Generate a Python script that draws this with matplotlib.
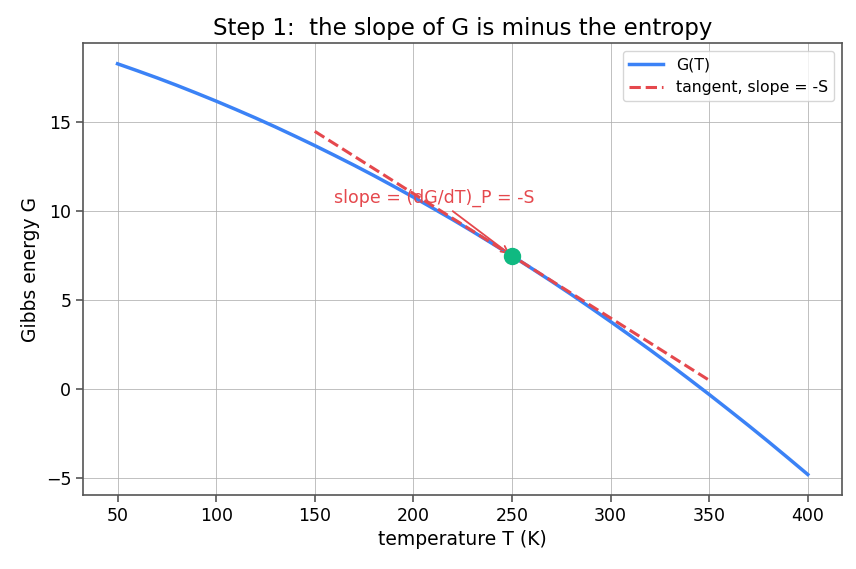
#!/usr/bin/env python3

import matplotlib
matplotlib.use("Agg")
import matplotlib.pyplot as plt

# values
temperature = [50, 60, 70, 80, 90, 100, 110, 120, 130, 140, 150, 160, 170, 180,
               190, 200, 210, 220, 230, 240, 250, 260, 270, 280, 290, 300, 310,
               320, 330, 340, 350, 360, 370, 380, 390, 400]
gibbs = [18.30, 17.91, 17.51, 17.09, 16.65, 16.20, 15.73, 15.25, 14.75, 14.23,
         13.70, 13.15, 12.59, 12.01, 11.41, 10.80, 10.17, 9.53, 8.87, 8.19,
         7.50, 6.79, 6.07, 5.33, 4.57, 3.80, 3.01, 2.21, 1.39, 0.55,
         -0.30, -1.17, -2.05, -2.95, -3.87, -4.80]

tangent_t = [150, 350]
tangent_g = [14.5, 0.5]

point_t = 250
point_g = 7.5

fig, ax = plt.subplots(figsize=(8.56, 5.69), dpi=100)

ax.plot(temperature, gibbs, color="#3b82f6", lw=2.5, label="G(T)")
ax.plot(tangent_t, tangent_g, color="#e5484d", lw=2.2, ls="--", label="tangent, slope = -S")
ax.plot([point_t], [point_g], "o", color="#10b981", markersize=11.5, zorder=5)

ax.annotate(
    "slope = (dG/dT)_P = -S",
    xy=(point_t, point_g),
    xytext=(160, 10.5),
    color="#e5484d",
    fontsize=12.5,
    arrowprops=dict(arrowstyle="->", color="#e5484d", lw=1.3),
)

ax.set_title("Step 1:  the slope of G is minus the entropy", fontsize=16.5)
ax.set_xlabel("temperature T (K)", fontsize=13.5)
ax.set_ylabel("Gibbs energy G", fontsize=13.5)
ax.tick_params(labelsize=12.5, length=5, width=1.2, color="#555555")
ax.grid(True, color="#b0b0b0", lw=0.7, alpha=0.8)
for s in ax.spines.values():
    s.set_color("#555555")
    s.set_linewidth(1.2)
ax.legend(loc="upper right", fontsize=11.3, handlelength=2.2)

fig.subplots_adjust(left=0.097, right=0.984, top=0.924, bottom=0.130)
plt.savefig("out.png", dpi=100)
